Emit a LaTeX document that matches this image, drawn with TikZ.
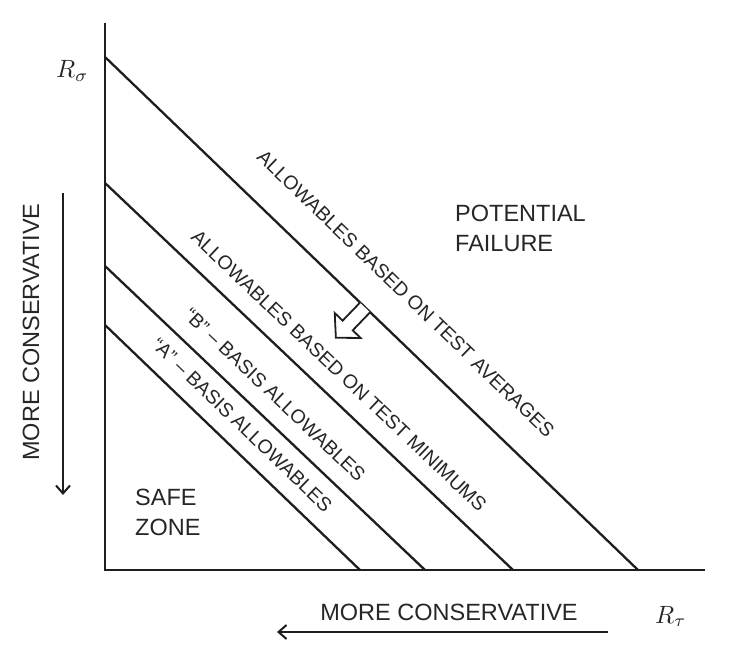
\documentclass[tikz,border=0pt]{standalone}
\usepackage{fontspec}
\setmainfont{Liberation Sans}
\usetikzlibrary{calc,arrows.meta}
\definecolor{ink}{HTML}{1E1E1E}
\definecolor{txt}{HTML}{262626}
\tikzset{
  axisline/.style={draw=ink, line width=2.4pt, line join=miter},
  limitline/.style={draw=ink, line width=2.3pt},
  dirarrow/.style={draw=ink, line width=2pt, -{Straight Barb[length=8pt,width=14pt,line width=2pt]}},
  lbl/.style={text=txt, font=\fontsize{19.5}{22}\selectfont, inner sep=0pt},
  bigtxt/.style={text=txt, font=\fontsize{23.5}{30}\selectfont, inner sep=0pt},
  mathlbl/.style={text=txt, inner sep=0pt, anchor=base west},
  hollow/.style={draw=ink, line width=1.8pt, fill=white, line join=miter}
}
\begin{document}
\begin{tikzpicture}[x=1pt,y=1pt]
\useasboundingbox (0,0) rectangle (752,664);
% axes
\coordinate (ytop) at (105,641);
\coordinate (orig) at (105,94);
\coordinate (xend) at (705,94);
\draw[axisline] (ytop) -- (orig) -- (xend);
% limit lines
\coordinate (l1a) at (105,607); \coordinate (l1b) at (638,94);
\coordinate (l2a) at (105,481); \coordinate (l2b) at (513,94);
\coordinate (l3a) at (105,398); \coordinate (l3b) at (425,94);
\coordinate (l4a) at (105,339); \coordinate (l4b) at (360,94);
\draw[limitline] (l1a) -- (l1b);
\draw[limitline] (l2a) -- (l2b);
\draw[limitline] (l3a) -- (l3b);
\draw[limitline] (l4a) -- (l4b);
% line labels
\path ($(l1a)!0.515!(l1b)$) coordinate (m1);
\path ($(l2a)!0.532!(l2b)$) coordinate (m2);
\path ($(l3a)!0.48!(l3b)$) coordinate (m3);
\path ($(l4a)!0.475!(l4b)$) coordinate (m4);
\node[lbl, rotate=-43.9] (t1) at ($(m1)!38pt!90:(l1b)$) {ALLOWABLES BASED ON TEST AVERAGES};
\node[lbl, rotate=-43.5] (t2) at ($(m2)!24.6pt!90:(l2b)$) {ALLOWABLES BASED ON TEST MINIMUMS};
\node[lbl, rotate=-43.5] (t3) at ($(m3)!23.6pt!90:(l3b)$) {“B” – BASIS ALLOWABLES};
\node[lbl, rotate=-43.85] (t4) at ($(m4)!22.8pt!90:(l4b)$) {“A” – BASIS ALLOWABLES};
% hollow arrow
\draw[hollow] (370.04,351.65) -- (352.71,333.64) -- (360.64,326.01) -- (335.88,326.25)
  -- (334.70,350.97) -- (342.63,343.34) -- (359.96,361.35);
% region texts
\node[bigtxt, anchor=west, align=left] (pf) at (455,436) {POTENTIAL\\FAILURE};
\node[bigtxt, anchor=west, align=left] (sz) at (135,151.5) {SAFE\\ZONE};
% axis labels
\node[mathlbl] (rs) at (56,586) {\scalebox{2.5}{$R_\sigma$}};
\node[mathlbl] (rt) at (655,41) {\scalebox{2.5}{$R_\tau$}};
% direction arrows
\node[bigtxt, rotate=90] (mcv) at (31,332) {MORE CONSERVATIVE};
\node[bigtxt] (mch) at (449,52) {MORE CONSERVATIVE};
\coordinate (va) at (63,471); \coordinate (vb) at (63,169);
\coordinate (ha) at (608,32); \coordinate (hb) at (277,32);
\draw[dirarrow] (va) -- (vb);
\draw[dirarrow] (ha) -- (hb);
\end{tikzpicture}
\end{document}
